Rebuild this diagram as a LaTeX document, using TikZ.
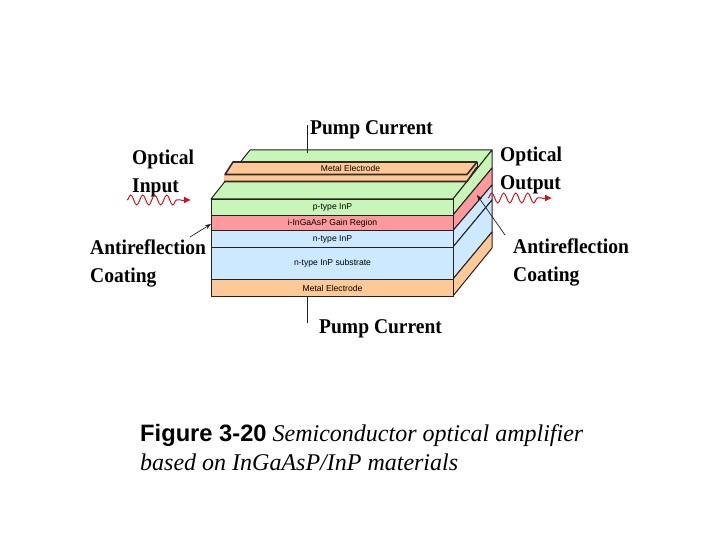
\documentclass[tikz,border=0pt]{standalone}
\usepackage{fontspec}
\setmainfont{Liberation Serif}
\newfontfamily\arialf{Liberation Sans}
\newfontfamily\labelf[FakeStretch=0.93]{Liberation Serif}
\usetikzlibrary{decorations.pathmorphing,decorations.pathreplacing,arrows.meta,calc}
\definecolor{cgreen}{HTML}{C8F5B8}
\definecolor{cred}{HTML}{FF9A9C}
\definecolor{cblue}{HTML}{CCE9FF}
\definecolor{corange}{HTML}{FFC997}
\definecolor{cline}{HTML}{222222}
\definecolor{cwave}{HTML}{D0141C}
\tikzset{
  x=1pt,y=-1pt,
  layer/.style={draw=cline,line width=1pt,anchor=north west,inner sep=0pt,minimum width=242pt,
    font=\arialf\fontsize{8.6}{10}\selectfont,text=black},
  face/.style={draw=cline,line width=1pt,line join=round},
  elec/.style={draw=cline!90!brown,line width=1.6pt,line join=round},
  label/.style={font=\labelf\bfseries\fontsize{21}{28}\selectfont,align=left,anchor=north west,inner sep=0pt,text=black},
  lead/.style={draw=cline,line width=0.9pt},
  pointer/.style={draw=cline,line width=0.7pt,-{Stealth[length=6pt,width=4.5pt]}},
  wave/.style={draw=cwave,line width=1pt,decorate,decoration={snake,amplitude=5pt,segment length=12pt,post length=0pt}},
  tip/.style={draw=cwave,fill=cwave,line width=0.9pt,-{Latex[length=7pt,width=7pt]}},
}
\begin{document}
\begin{tikzpicture}
\useasboundingbox (0,0) rectangle (720,540);
\fill[white] (0,0) rectangle (720,540);

% top face
\draw[face,fill=cgreen] (211,199) -- (250,150) -- (492,150) -- (453,199) -- cycle;
% right faces
\draw[face,fill=cgreen] (453,199) -- (492,150) -- (492,168) -- (453,215) -- cycle;
\draw[face,fill=cred] (453,215) -- (492,168) -- (492,185) -- (453,230.5) -- cycle;
\draw[face,fill=cblue] (453,230.5) -- (492,185) -- (492,200) -- (453,247) -- cycle;
\draw[face,fill=cblue] (453,247) -- (492,200) -- (492,232) -- (453,279) -- cycle;
\draw[face,fill=corange] (453,279) -- (492,232) -- (492,248) -- (453,296) -- cycle;

% upper electrode
\fill[corange] (224,175) rectangle (467,181);
\fill[corange] (467,174) -- (477,162) -- (477,167) -- (467,181) -- cycle;
\draw[elec,fill=corange] (233,162) -- (477,162) -- (467,174.5) -- (225,174.5) -- cycle;
\draw[elec] (224,181.5) -- (467,181.5) -- (477,167);
\draw[face,line width=0.8pt] (477,162) -- (477,167);
\node[font=\arialf\fontsize{8.5}{10}\selectfont,text=black,inner sep=0pt] (electop) at (350.5,168) {Metal Electrode};

% front layers
\node[layer,fill=cgreen,minimum height=16pt] (pinp) at (211,199) {p-type InP};
\node[layer,fill=cred,minimum height=15.5pt] (gain) at (211,215) {i-InGaAsP Gain Region};
\node[layer,fill=cblue,minimum height=16.5pt] (ninp) at (211,230.5) {n-type InP};
\node[layer,fill=cblue,minimum height=32pt] (subs) at (211,247) {n-type InP substrate};
\node[layer,fill=corange,minimum height=17pt] (metal) at (211,279) {Metal Electrode};

% labels
\node[label] (pumptop) at (310,120) {Pump Current};
\node[label] (pumpbot) at (319,319) {Pump Current};
\node[label] (optin) at (132,150) {Optical\\Input};
\node[label] (optout) at (500,147) {Optical\\Output};
\node[label] (arleft) at (90,240) {Antireflection\\Coating};
\node[label] (arright) at (513,239) {Antireflection\\Coating};

% pump leads
\coordinate (ptopa) at (307,125);
\coordinate (ptopb) at (307,153);
\coordinate (pbota) at (307,296);
\coordinate (pbotb) at (307,323);
\draw[lead] (ptopa) -- (ptopb);
\draw[lead] (pbota) -- (pbotb);

% antireflection pointers
\coordinate (arla) at (190,237);
\coordinate (arlb) at (211,224);
\coordinate (arra) at (505,235);
\coordinate (arrb) at (477,195);
\draw[pointer] (arla) -- (arlb);
\draw[pointer] (arra) -- (arrb);

% optical waves
\coordinate (wia) at (127,200);
\coordinate (wib) at (181,200);
\coordinate (wic) at (191,200);
\coordinate (woa) at (488,198);
\coordinate (wob) at (542,198);
\coordinate (woc) at (552,198);
\draw[wave] (wia) -- (wib);
\draw[tip] (wib) -- (wic);
\draw[wave] (woa) -- (wob);
\draw[tip] (wob) -- (woc);

% caption
\node[anchor=base west,inner sep=0pt,font=\fontsize{24}{28}\selectfont,align=left] (cap1) at (140,441)
  {{\arialf\bfseries\fontsize{23.7}{28}\selectfont Figure 3-20} \itshape Semiconductor optical amplifier};
\node[anchor=base west,inner sep=0pt,font=\itshape\fontsize{24}{28}\selectfont,align=left] (cap2) at (140,470)
  {based on InGaAsP/InP materials};
\end{tikzpicture}
\end{document}
